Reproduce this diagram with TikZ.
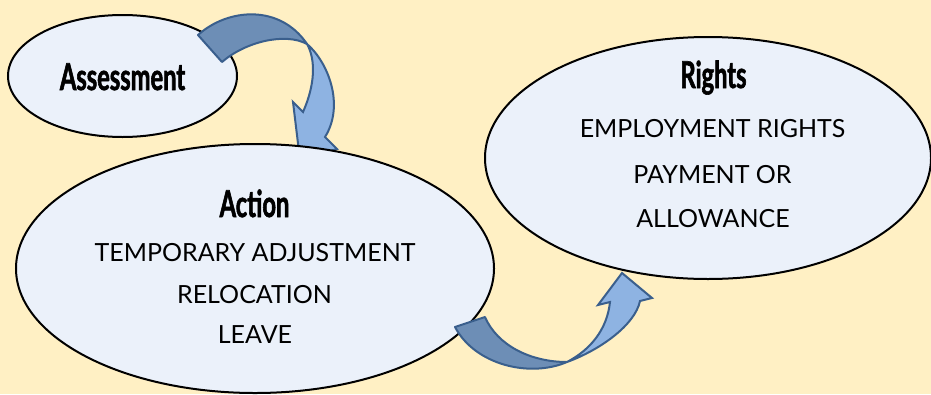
\documentclass[tikz,border=0pt]{standalone}
\usepackage{fontspec}
\setmainfont{Lato}
\newfontfamily\headfont[FakeStretch=0.64,FakeBold=1.6]{Lato}
\usetikzlibrary{shapes.geometric}

\definecolor{sand}{RGB}{255,240,196}
\definecolor{bubblefill}{RGB}{235,241,250}
\definecolor{bandback}{RGB}{109,142,182}
\definecolor{bandfront}{RGB}{142,179,226}
\definecolor{bandline}{RGB}{58,95,141}

\tikzset{every picture/.style={line width=0.75pt}}
\tikzset{
  bubble/.style={ellipse, draw=black, line width=2pt, fill=bubblefill, inner sep=0pt},
  headtxt/.style={anchor=base, inner sep=0pt, font=\headfont\bfseries\fontsize{37}{40}\selectfont},
  bodytxt/.style={anchor=base, inner sep=0pt, font=\fontsize{25}{30}\selectfont},
  backband/.style={draw=bandline, line width=2pt, fill=bandback, line join=round},
  frontband/.style={draw=bandline, line width=2pt, fill=bandfront, line join=miter},
}

\begin{document}
\begin{tikzpicture}[x=1pt,y=1pt,yscale=-1,xscale=1]
\useasboundingbox (0,0) rectangle (931,394);
\fill[sand] (0,0) rectangle (931,394);

%Ellipse [assessment]
\node[bubble, minimum width=229, minimum height=122] (assessment) at (122.5,76) {};

%Curved Arrow [assessment -> action]
\draw[backband] (198,35) .. controls (228,8) and (280,4) .. (307,44)
   .. controls (285,32) and (245,42) .. (222,62) -- cycle;
\draw[frontband] (307,44) .. controls (328,62) and (345,105) .. (325,137)
   -- (337,149) -- (300,160) -- (293,102) -- (303,112)
   .. controls (315,85) and (316,60) .. (307,44) -- cycle;

%Ellipse [action]
\node[bubble, minimum width=478, minimum height=249] (action) at (255,268.5) {};

%Curved Arrow [action -> rights]
\draw[backband] (455,327) .. controls (475,365) and (530,378) .. (567,362)
   .. controls (530,362) and (497,345) .. (485,317) -- cycle;
\draw[frontband] (567,362) .. controls (600,350) and (635,325) .. (640,301)
   -- (652,298) -- (622,273) -- (598,305) -- (610,302)
   .. controls (607,330) and (590,350) .. (567,362) -- cycle;

%Ellipse [rights]
\node[bubble, minimum width=446, minimum height=242] (rights) at (708,158) {};

% Text Node
\node[headtxt] (asstitle) at (122.5,90) {Assessment};
% Text Node
\node[headtxt] (acttitle) at (254.5,217) {Action};
% Text Node
\node[bodytxt] (actone) at (255,261) {TEMPORARY ADJUSTMENT};
% Text Node
\node[bodytxt] (acttwo) at (254.5,303) {RELOCATION};
% Text Node
\node[bodytxt] (actthree) at (255,343) {LEAVE};
% Text Node
\node[headtxt] (rgttitle) at (713.5,88) {Rights};
% Text Node
\node[bodytxt] (rgtone) at (712.5,137) {EMPLOYMENT RIGHTS};
% Text Node
\node[bodytxt] (rgttwo) at (712.5,183) {PAYMENT OR};
% Text Node
\node[bodytxt] (rgtthree) at (713,227) {ALLOWANCE};

\end{tikzpicture}
\end{document}
